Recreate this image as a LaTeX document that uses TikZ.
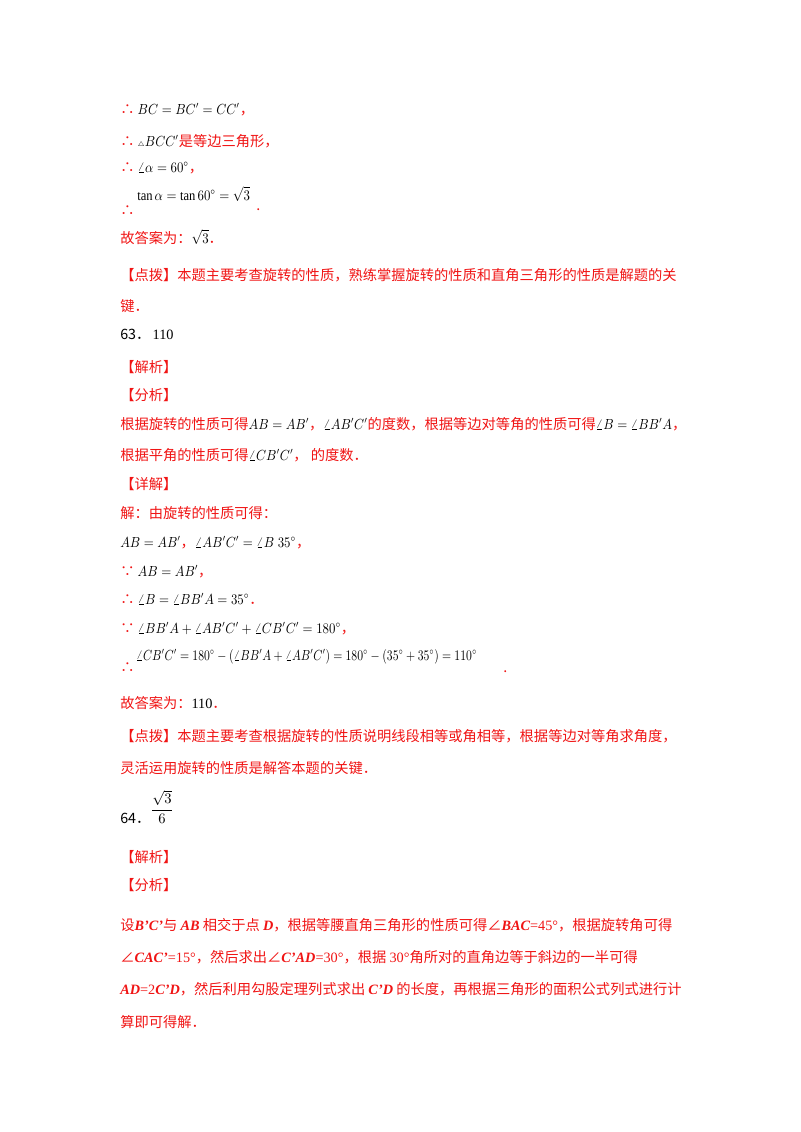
\documentclass[tikz,border=0pt]{standalone}
\usepackage{fontspec}
\usepackage{graphicx}
\setmainfont{Liberation Serif}
\newfontfamily\cjk{Noto Sans CJK SC}
\definecolor{rd}{RGB}{240,20,20}
\newcommand{\mk}[1]{\textcolor{black}{\scalebox{0.88}[1]{$#1$}}}
\newcommand{\li}[1]{{\rmfamily\bfseries\itshape #1}}
\begin{document}
\begin{tikzpicture}[x=0.75pt,y=-0.75pt,
  t/.style={anchor=base west,inner sep=0pt,font=\fontsize{10.7}{13}\selectfont\cjk,text=rd}]
\useasboundingbox (0,0) rectangle (800,1132);
\node[t] (l1) at (120,114) {∴ \mk{BC=BC'=CC'}，};
\node[t] (l2) at (120,146) {∴ \mk{\scriptscriptstyle\triangle\textstyle BCC'}是等边三角形，};
\node[t] (l3) at (120,172) {∴ \mk{\angle\alpha=60^\circ}，};
\node[t] (l4a) at (120,215) {∴};
\node[t] (l4b) at (137,200) {\mk{\tan\alpha=\tan60^\circ=\sqrt3}};
\node[t] (l4c) at (256,210) {.};
\node[t] (l5) at (120,243) {故答案为：\mk{\sqrt3}．};
\node[t] (l6) at (120,280) {【点拨】本题主要考查旋转的性质，熟练掌握旋转的性质和直角三角形的性质是解题的关};
\node[t] (l7) at (120,311) {键．};
\node[t,text=black] (l8) at (120,339) {63．\,{\rmfamily 110}};
\node[t] (l9) at (120,372) {【解析】};
\node[t] (l10) at (120,400) {【分析】};
\node[t] (l11) at (120,429) {根据旋转的性质可得\mk{AB=AB'}，\mk{\angle AB'C'}的度数，根据等边对等角的性质可得\mk{\angle B=\angle BB'A}，};
\node[t] (l12) at (120,460) {根据平角的性质可得\mk{\angle CB'C'}，\ 的度数．};
\node[t] (l13) at (120,489) {【详解】};
\node[t] (l14) at (120,518) {解：由旋转的性质可得：};
\node[t] (l15) at (120,547) {\mk{AB=AB'}，\mk{\angle AB'C'=\angle B\;35^\circ}，};
\node[t] (l16) at (120,576) {∵ \mk{AB=AB'}，};
\node[t] (l17) at (120,604) {∴ \mk{\angle B=\angle BB'A=35^\circ}．};
\node[t] (l18) at (120,633) {∵ \mk{\angle BB'A+\angle AB'C'+\angle CB'C'=180^\circ}，};
\node[t] (l19a) at (120,672) {∴};
\node[t] (l19b) at (136,660) {\textcolor{black}{\scalebox{0.8}[1]{$\angle CB'C'=180^\circ-(\angle BB'A+\angle AB'C')=180^\circ-(35^\circ+35^\circ)=110^\circ$}}};
\node[t] (l19c) at (503,672) {.};
\node[t] (l20) at (120,708) {故答案为：\textcolor{black}{\rmfamily 110}．};
\node[t] (l21) at (120,741) {【点拨】本题主要考查根据旋转的性质说明线段相等或角相等，根据等边对等角求角度，};
\node[t] (l22) at (120,773) {灵活运用旋转的性质是解答本题的关键．};
\node[t,text=black] (l23) at (120,823) {64．};
\node[text=black,font=\fontsize{11}{13}\selectfont] (f) at (162,807) {$\displaystyle\frac{\sqrt3}{6}$};
\node[t] (l24) at (120,862) {【解析】};
\node[t] (l25) at (120,890) {【分析】};
\node[t] (l26) at (120,930) {设\li{B'C'}与 \li{AB} 相交于点 \li{D}，根据等腰直角三角形的性质可得∠\li{BAC}{\rmfamily =45°}，根据旋转角可得};
\node[t] (l27) at (120,962) {∠\li{CAC'}{\rmfamily =15°}，然后求出∠\li{C'AD}{\rmfamily =30°}，根据 {\rmfamily 30°}角所对的直角边等于斜边的一半可得};
\node[t] (l28) at (120,994) {\li{AD}{\rmfamily =2}\li{C'D}，然后利用勾股定理列式求出 \li{C'D} 的长度，再根据三角形的面积公式列式进行计};
\node[t] (l29) at (120,1027) {算即可得解．};
\end{tikzpicture}
\end{document}
